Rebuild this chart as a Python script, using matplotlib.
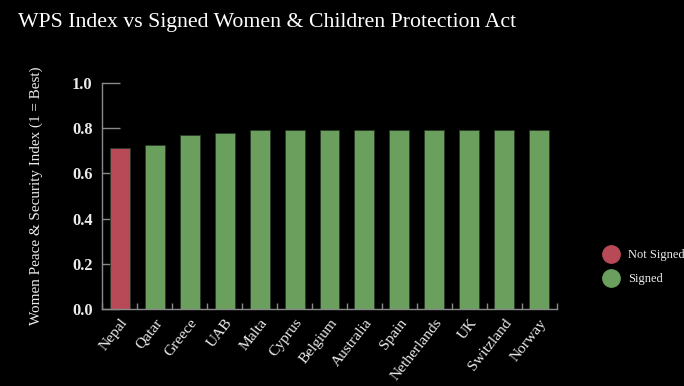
import matplotlib
matplotlib.use("Agg")
import matplotlib.pyplot as plt
from matplotlib.lines import Line2D

# Women Peace & Security index by country, and whether the act was signed
countries = ["Nepal", "Qatar", "Greece", "UAB", "Malta", "Cyprus", "Belgium",
             "Australia", "Spain", "Netherlands", "UK", "Switzland", "Norway"]
wps_index = [0.714, 0.727, 0.767, 0.779, 0.792, 0.792, 0.792,
             0.792, 0.792, 0.792, 0.792, 0.792, 0.792]
status = ["Not Signed", "Signed", "Signed", "Signed", "Signed", "Signed", "Signed",
          "Signed", "Signed", "Signed", "Signed", "Signed", "Signed"]
y_ticks = [0.0, 0.2, 0.4, 0.6, 0.8, 1.0]

colors = {"Not Signed": "#b84a57", "Signed": "#6a9f5e"}
serif = ["Liberation Serif", "DejaVu Serif"]
text_color = "#ececec"
axis_color = "#8a8a8a"

W, H, DPI = 684, 386, 100
fig = plt.figure(figsize=(W / DPI, H / DPI), dpi=DPI, facecolor="black")

left, right = 102.3, 556.7
top, bottom = 82.7, 309.3
ax = fig.add_axes([left / W, 1 - bottom / H, (right - left) / W, (bottom - top) / H])
ax.set_facecolor("black")

x = list(range(len(countries)))
ax.bar(x, wps_index, width=0.57, color=[colors[s] for s in status],
       edgecolor="#2a3a28", linewidth=0.6, zorder=2)

ax.set_xlim(-0.5, len(countries) - 0.5)
ax.set_ylim(0, 1.0)

for side in ("top", "right"):
    ax.spines[side].set_visible(False)
for side in ("left", "bottom"):
    ax.spines[side].set_color(axis_color)
    ax.spines[side].set_linewidth(1.0)

# y axis: inward ticks
ax.set_yticks(y_ticks)
ax.set_yticklabels([f"{v:.1f}" for v in y_ticks], fontfamily=serif,
                   fontweight="bold", fontsize=11.8, color=text_color)
ax.tick_params(axis="y", direction="in", length=13, width=1.0,
               color=axis_color, pad=7)

# x axis: small inward ticks on band boundaries, labels on band centres
ax.set_xticks([i - 0.5 for i in range(len(countries) + 1)], minor=False)
ax.set_xticklabels([])
ax.tick_params(axis="x", which="major", direction="in", length=4, width=1.0,
               color=axis_color)
ax.set_xticks(x, minor=True)
ax.set_xticklabels(countries, minor=True, rotation=52, ha="right", va="top",
                   rotation_mode="anchor", fontfamily=serif, fontsize=11.1,
                   color=text_color)
ax.tick_params(axis="x", which="minor", length=0, pad=5)

ax.set_ylabel("Women Peace & Security Index (1 = Best)", fontfamily=serif,
              fontsize=10.9, color=text_color)
ax.yaxis.set_label_coords(-(left - 43) / (right - left), 0.5)

fig.text(18 / W, 1 - 13 / H, "WPS Index vs Signed Women & Children Protection Act",
         fontfamily=serif, fontsize=15.7, color="white", ha="left", va="top")

handles = [Line2D([0], [0], marker="o", linestyle="none", markersize=12.5,
                  markerfacecolor=colors[k], markeredgecolor=colors[k], label=k)
           for k in ("Not Signed", "Signed")]
leg = fig.legend(handles=handles, loc="upper left",
                 bbox_to_anchor=(601 / W, 1 - 247 / H), frameon=False,
                 handletextpad=0.8, labelspacing=0.95, handlelength=1.2,
                 borderaxespad=0, borderpad=0.2,
                 prop={"family": serif, "size": 8.9})
for t in leg.get_texts():
    t.set_color(text_color)

fig.savefig("out.png", dpi=DPI, facecolor="black")
